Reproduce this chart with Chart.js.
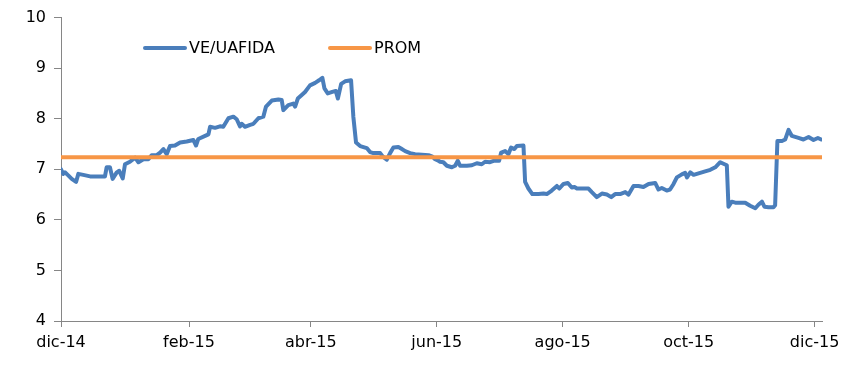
<!DOCTYPE html>
<html>
<head>
<meta charset="utf-8">
<script src="https://cdn.jsdelivr.net/npm/chart.js@4/dist/chart.umd.min.js"></script>
<style>
  html, body { margin: 0; padding: 0; background: #fff; }
  #wrap { width: 858px; height: 379px; }
</style>
</head>
<body>
<div id="wrap"><canvas id="c" width="858" height="379"></canvas></div>
<script>
// Days since 1 Dec 2014
const days = [0,1.1,1.9,3.5,5.2,7.3,8.4,10.8,14.1,17.3,21.3,22.1,23.7,25.0,27.0,28.2,29.9,31.0,33.4,35.9,37.5,39.9,42.3,43.9,46.4,48.0,49.6,51.2,52.8,55.2,57.7,60.9,64.1,65.4,66.5,69.8,71.4,72.2,74.6,77.0,78.6,81.1,83.5,85.1,86.7,87.5,89.1,91.6,93.2,95.6,98.0,99.3,102.1,105.3,106.9,107.7,110.1,112.5,113.4,114.7,116.6,118.2,120.6,123.1,125.0,126.6,127.6,129.2,131.4,133.1,134.1,135.7,137.6,140.5,141.6,142.9,144.9,148.1,149.7,151.3,154.6,155.9,157.8,159.4,161.0,163.4,164.7,166.7,169.1,171.5,174.8,178.0,179.9,181.2,182.8,183.6,185.2,186.9,189.3,190.9,192.2,193.3,196.6,199.0,201.4,203.8,205.4,207.8,209.9,212.2,213.2,215.1,216.7,218.0,219.6,220.8,224.0,224.8,226.4,228.3,231.3,233.7,235.3,237.7,240.2,241.3,243.4,245.5,247.4,248.7,249.9,253.1,255.5,257.1,259.5,262.0,264.4,266.5,268.4,270.8,273.3,274.9,277.3,279.7,282.1,284.6,287.8,289.4,291.0,293.4,295.0,296.7,298.3,300.7,302.3,303.2,304.8,306.4,308.8,312.0,314.5,316.9,319.3,321.4,322.5,323.3,324.9,326.6,329.0,331.4,333.8,336.3,337.8,339.5,340.7,342.7,345.1,345.9,347.0,349.2,350.8,352.4,354.0,357.2,359.6,362.1,364.5,366.6,368.2];
const veUafida = [7.00,6.91,6.94,6.88,6.81,6.75,6.91,6.89,6.86,6.86,6.86,7.04,7.04,6.81,6.94,6.97,6.82,7.10,7.15,7.23,7.14,7.20,7.20,7.28,7.28,7.33,7.40,7.30,7.46,7.47,7.53,7.55,7.58,7.47,7.60,7.66,7.69,7.84,7.82,7.85,7.84,8.01,8.04,7.99,7.85,7.90,7.84,7.88,7.90,8.01,8.04,8.24,8.36,8.38,8.37,8.17,8.27,8.30,8.24,8.40,8.47,8.53,8.66,8.71,8.76,8.81,8.60,8.50,8.53,8.55,8.40,8.69,8.74,8.76,8.04,7.53,7.46,7.42,7.34,7.32,7.32,7.25,7.19,7.32,7.43,7.44,7.41,7.36,7.32,7.30,7.29,7.28,7.25,7.20,7.17,7.15,7.14,7.07,7.04,7.07,7.17,7.07,7.07,7.08,7.12,7.10,7.15,7.14,7.17,7.17,7.33,7.36,7.30,7.43,7.40,7.46,7.47,6.75,6.62,6.51,6.51,6.52,6.51,6.58,6.67,6.62,6.71,6.73,6.64,6.65,6.62,6.62,6.62,6.55,6.45,6.52,6.50,6.45,6.51,6.51,6.55,6.50,6.67,6.67,6.65,6.71,6.73,6.60,6.63,6.58,6.60,6.71,6.84,6.90,6.93,6.84,6.94,6.89,6.92,6.96,6.99,7.04,7.14,7.10,7.08,6.26,6.36,6.34,6.34,6.34,6.28,6.23,6.30,6.36,6.26,6.25,6.25,6.29,7.56,7.56,7.59,7.78,7.66,7.62,7.59,7.64,7.58,7.62,7.59];
const promValue = 7.24;
const promDays = [0, 368.6];
const tickDays = [0, 62, 121, 182, 243, 304, 365];
const tickLabels = ['dic-14','feb-15','abr-15','jun-15','ago-15','oct-15','dic-15'];
const yTicks = [4,5,6,7,8,9,10];

const FONT = { family: 'DejaVu Sans', size: 16 };
const AXIS = '#868686';

const legendInside = {
  id: 'legendInside',
  afterDraw(chart) {
    const ctx = chart.ctx;
    const y = 48;
    const starts = [145, 330];
    ctx.save();
    ctx.font = FONT.size + 'px "' + FONT.family + '"';
    ctx.textBaseline = 'middle';
    ctx.fillStyle = '#000';
    chart.data.datasets.forEach((ds, i) => {
      const x0 = starts[i];
      ctx.beginPath();
      ctx.strokeStyle = ds.borderColor;
      ctx.lineWidth = ds.borderWidth;
      ctx.lineCap = 'round';
      ctx.moveTo(x0, y);
      ctx.lineTo(x0 + 40, y);
      ctx.stroke();
      ctx.fillText(ds.label, x0 + 44, y + 1);
    });
    ctx.restore();
  }
};

new Chart(document.getElementById('c'), {
  type: 'line',
  data: {
    datasets: [
      {
        label: 'VE/UAFIDA',
        data: days.map((d, i) => ({ x: d, y: veUafida[i] })),
        borderColor: '#4A7EBB',
        borderWidth: 4,
        pointRadius: 0,
        tension: 0,
        borderJoinStyle: 'round',
        borderCapStyle: 'round',
        order: 1
      },
      {
        label: 'PROM',
        data: promDays.map(d => ({ x: d, y: promValue })),
        borderColor: '#F79646',
        borderWidth: 4,
        pointRadius: 0,
        order: 0
      }
    ]
  },
  options: {
    responsive: false,
    animation: false,
    devicePixelRatio: 1,
    layout: { padding: { top: 13, right: 36, left: 0, bottom: 0 } },
    plugins: { legend: { display: false }, tooltip: { enabled: false } },
    scales: {
      x: {
        type: 'linear',
        min: 0,
        max: 368.6,
        afterBuildTicks(scale) { scale.ticks = tickDays.map(v => ({ value: v })); },
        afterFit(scale) { scale.height = 58; },
        ticks: {
          autoSkip: false,
          maxRotation: 0,
          padding: 6,
          color: '#000',
          font: FONT,
          callback(value) { const i = tickDays.indexOf(value); return i >= 0 ? tickLabels[i] : ''; }
        },
        grid: { display: true, drawOnChartArea: false, drawTicks: true, tickLength: 6, color: AXIS },
        border: { display: true, color: AXIS, width: 1 }
      },
      y: {
        min: 4,
        max: 10,
        afterBuildTicks(scale) { scale.ticks = yTicks.map(v => ({ value: v })); },
        afterFit(scale) { scale.width = 61; },
        ticks: { padding: 8, color: '#000', font: FONT },
        grid: { display: true, drawOnChartArea: false, drawTicks: true, tickLength: 7, color: AXIS },
        border: { display: true, color: AXIS, width: 1 }
      }
    }
  },
  plugins: [legendInside]
});
</script>
</body>
</html>
